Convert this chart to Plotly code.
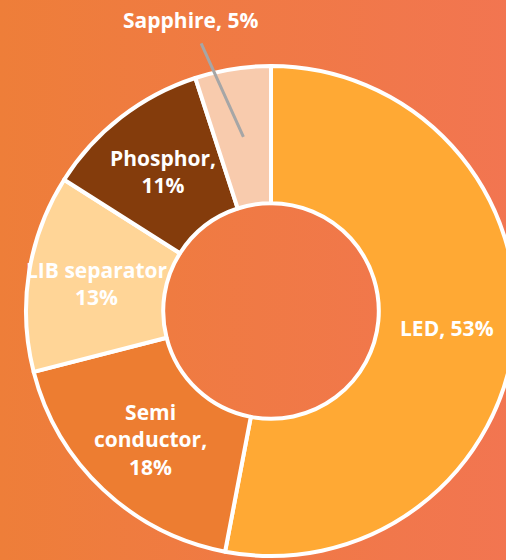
import base64
import math
import plotly.graph_objects as go

labels = ["LED", "Semi conductor", "LIB separator", "Phosphor", "Sapphire"]
values = [53, 18, 13, 11, 5]
label_text = ["LED, 53%", "Semi<br>conductor,<br>18%", "LIB separator<br>13%", "Phosphor,<br>11%", "Sapphire, 5%"]
colors = ["#FFA934", "#ED7D31", "#FFD597", "#843C0C", "#F8CBAD"]
hole = 0.44

W, H = 516, 560
ml, mr, mt, mb = 26, 0, 66, 4
pw = W - ml - mr
ph = H - mt - mb

FONT = dict(family="Open Sans", size=21, color="white", weight="bold")

fig = go.Figure(go.Pie(
    labels=labels,
    values=values,
    textinfo="none",
    hole=hole,
    sort=False,
    direction="clockwise",
    rotation=0,
    marker=dict(colors=colors, line=dict(color="white", width=4)),
    showlegend=False,
    hoverinfo="label+percent",
))

total = sum(values)
rf = (1 + hole) / 2
cum = 0
for i, v in enumerate(values):
    mid = (cum + v / 2) / total * 2 * math.pi
    cum += v
    px = 0.5 + 0.5 * rf * math.sin(mid)
    py = 0.5 + 0.5 * rf * math.cos(mid)
    if i == len(values) - 1:
        # small slice: label outside with leader line
        fig.add_annotation(
            x=px, y=py, xref="paper", yref="paper", text=label_text[i],
            showarrow=True, arrowhead=0, arrowwidth=3, arrowcolor="#A6A6A6",
            ax=-53, ay=-117, standoff=0, startstandoff=9, font=FONT,
        )
    else:
        fig.add_annotation(
            x=px, y=py, xref="paper", yref="paper", text=label_text[i],
            showarrow=False, font=FONT, xanchor="center", yanchor="middle",
        )

svg = (
    '<svg xmlns="http://www.w3.org/2000/svg" width="100" height="100" preserveAspectRatio="none">'
    '<defs><linearGradient id="g" x1="0" y1="0" x2="1" y2="0">'
    '<stop offset="0" stop-color="#EE7E39"/><stop offset="1" stop-color="#F27551"/>'
    '</linearGradient></defs><rect width="100" height="100" fill="url(#g)"/></svg>'
)
src = "data:image/svg+xml;base64," + base64.b64encode(svg.encode()).decode()
fig.add_layout_image(
    source=src, xref="paper", yref="paper",
    x=-ml / pw, y=1 + mt / ph, sizex=W / pw, sizey=H / ph,
    sizing="stretch", layer="below", xanchor="left", yanchor="top",
)

fig.update_layout(
    width=W, height=H,
    margin=dict(l=ml, r=mr, t=mt, b=mb),
    paper_bgcolor="#F07A45",
    plot_bgcolor="rgba(0,0,0,0)",
)

fig.write_html(
    "out.html",
    config={"displayModeBar": False},
    post_script="document.body.style.margin='0';document.body.style.overflow='hidden';",
)
